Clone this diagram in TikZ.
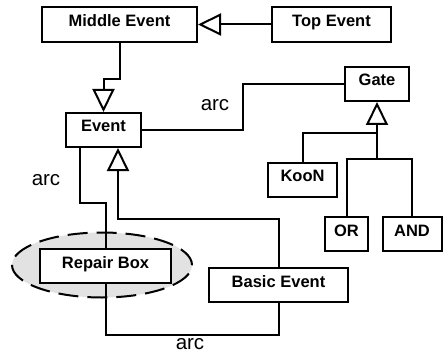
\documentclass[tikz,border=0pt]{standalone}
\usepackage{fontspec}
\setmainfont{Liberation Sans}
\usetikzlibrary{arrows.meta,shapes.geometric}
\definecolor{shade}{HTML}{E2E2E2}
\tikzset{
  box/.style={draw, line width=2pt, fill=white, inner sep=0pt,
    font=\bfseries\fontsize{16.5}{18}\selectfont,
    text height=12pt, text depth=8pt},
  link/.style={line width=2pt},
  inh/.style={link, -{Triangle[open, length=23pt, width=22pt, line width=2pt]}},
  arclabel/.style={font=\fontsize{20.5}{22}\selectfont, inner sep=0pt}
}
\begin{document}
\begin{tikzpicture}[x=1pt, y=-1pt]
\useasboundingbox (0,0) rectangle (443,355);

% grey dashed region around the repair box
\node[ellipse, draw, fill=shade, line width=2pt, dash pattern=on 20pt off 9pt,
      minimum width=180pt, minimum height=65pt, inner sep=0pt] (region) at (102,265) {};

% classes
\node[box, minimum width=155pt, minimum height=35pt] (mid)   at (119.5,24.5) {Middle Event};
\node[box, minimum width=119pt, minimum height=35pt] (top)   at (331.5,24.5) {Top Event};
\node[box, minimum width=75pt,  minimum height=34pt] (ev)    at (103.5,130)  {Event};
\node[box, minimum width=64pt,  minimum height=34pt] (gate)  at (377,84)     {Gate};
\node[box, minimum width=69pt,  minimum height=34pt] (koon)  at (302.5,180)  {KooN};
\node[box, minimum width=43pt,  minimum height=34pt] (or)    at (346.5,234)  {OR};
\node[box, minimum width=59pt,  minimum height=34pt] (and)   at (412,234)    {AND};
\node[box, minimum width=131pt, minimum height=34pt] (rep)   at (105.5,266)  {Repair Box};
\node[box, minimum width=139pt, minimum height=34pt] (basic) at (278.5,285)  {Basic Event};

% junction points of the generalisation trees
\coordinate (gj) at (377,133);
\coordinate (gk) at (377,159);
\coordinate (ej) at (118,219);

% generalisations
\draw[inh] (top.west) -- (mid.east);
\draw[inh] (mid.south) -- ++(0,36) -| (ev.north);
\draw[inh] (gk) -- (gate.south);
\draw[link] (koon.north) |- (gj);
\draw[link] (or.north) |- (gk) -| (and.north);
\draw[inh] (basic.north) |- (ej) -- (ej |- ev.south);

% associations
\draw[link] (ev.east) -- ++(101,0) |- (gate.west);
\draw[link] ([xshift=-23.5pt]ev.south) -- ++(0,55) -| (rep.north);
\draw[link] (rep.south) -- ++(0,51) -| (basic.south);

% association labels
\node[arclabel] (a1) at (215,105) {arc};
\node[arclabel] (a2) at (46,180) {arc};
\node[arclabel] (a3) at (190,344) {arc};
\end{tikzpicture}
\end{document}
